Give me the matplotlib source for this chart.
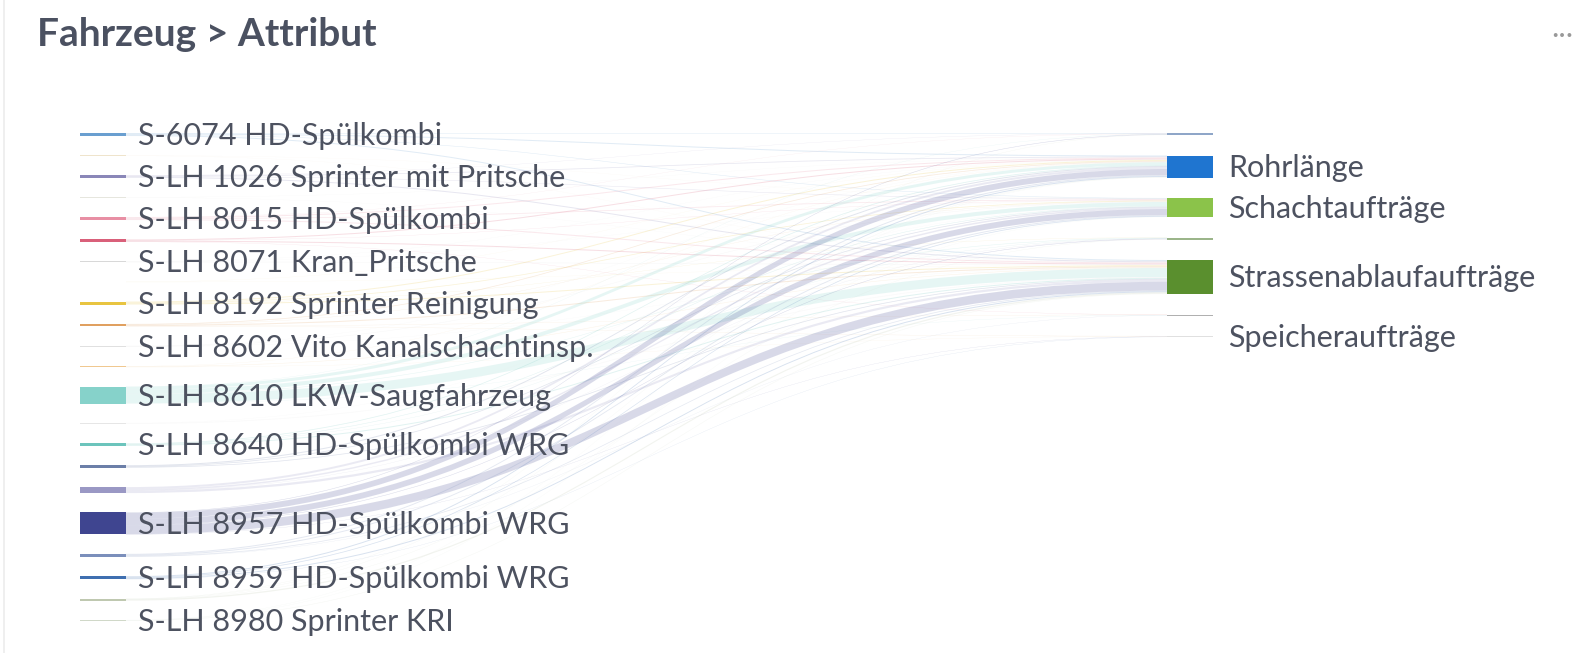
import matplotlib.pyplot as plt
import numpy as np
from matplotlib.path import Path
from matplotlib.patches import PathPatch, Rectangle

plt.rcParams['font.family'] = ['Lato', 'DejaVu Sans']

# vehicles (left column); empty names are nodes whose label is not shown
sources = [
    'S-6074 HD-Spülkombi', '', 'S-LH 1026 Sprinter mit Pritsche', '',
    'S-LH 8015 HD-Spülkombi', '', 'S-LH 8071 Kran_Pritsche', '',
    'S-LH 8192 Sprinter Reinigung', '', 'S-LH 8602 Vito Kanalschachtinsp.', '',
    'S-LH 8610 LKW-Saugfahrzeug', '', 'S-LH 8640 HD-Spülkombi WRG', '', '',
    'S-LH 8957 HD-Spülkombi WRG', '', 'S-LH 8959 HD-Spülkombi WRG', '',
    'S-LH 8980 Sprinter KRI',
]
source_colors = [
    '#6a9fd0', '#efe4cc', '#8a87b8', '#e6e6de', '#e88fa4', '#d9607a',
    '#d8d8d8', '#f0e0b0', '#e8c440', '#e0a060', '#e0e0e0', '#f0c890',
    '#86d2ca', '#e6e6e6', '#6cc4bc', '#6c7fa8', '#9a98c4', '#3f4590',
    '#7b8fbb', '#3f6fb0', '#bfc8b0', '#d0d8c8',
]

# attributes (right column)
targets = ['', 'Rohrlänge', 'Schachtaufträge', '', 'Strassenablaufaufträge',
           '', 'Speicheraufträge']
target_colors = ['#8fa6c8', '#1f75d0', '#8bc34a', '#9bb58a', '#5a8f2e',
                 '#b0b0b0', '#e0e0e0']

# flow from each vehicle (row) to each attribute (column)
flows = [
    [.5, 1, .5, 0, 1, 0, 0],
    [0, 0, .25, 0, .25, 0, 0],
    [.25, .75, .5, 0, 1, 0, 0],
    [0, .25, 0, 0, .25, 0, 0],
    [.25, 1, .75, 0, 1, 0, 0],
    [0, 1, .25, 0, 1, .25, 0],
    [0, .25, .25, 0, .5, 0, 0],
    [0, .25, 0, 0, .25, 0, 0],
    [0, 1, .75, .25, 1, 0, 0],
    [0, .75, .25, 0, 1, .25, .25],
    [0, .25, .5, 0, .25, 0, 0],
    [0, .25, 0, 0, .5, 0, .25],
    [.25, 3, 4, .5, 9, .25, 0],
    [0, 0, .25, 0, .75, 0, 0],
    [0, .75, .5, .25, 1, 0, 0],
    [0, 1, .75, 0, .75, 0, 0],
    [0, 2, 1.5, .25, 2.25, 0, 0],
    [.5, 6, 6, .5, 8.75, 0, .25],
    [0, 1, 1, 0, .75, .25, 0],
    [0, 1, .75, 0, 1, 0, .25],
    [.25, .25, 0, .25, 1.25, 0, 0],
    [0, .25, .25, 0, .5, 0, 0],
]

W, H = 1573, 653
fig = plt.figure(figsize=(W / 100, H / 100), dpi=100)
ax = fig.add_axes([0, 0, 1, 1])
ax.set_xlim(0, W)
ax.set_ylim(H, 0)
ax.axis('off')

F = np.array(flows, dtype=float)
src_val = F.sum(axis=1)
tgt_val = F.sum(axis=0)

# layout: both columns share the same value scale, top aligned
top, bottom = 133, 621
left_x, right_x, node_w = 80, 1167, 46
scale = 1.0
gap_left = (bottom - top - src_val.sum() * scale) / (len(sources) - 1)
gap_right = 20.5


def stack(values, gap):
    y0 = top + np.concatenate([[0], np.cumsum(values * scale + gap)[:-1]])
    return y0, y0 + values * scale


src_y0, src_y1 = stack(src_val, gap_left)
tgt_y0, tgt_y1 = stack(tgt_val, gap_right)

# links, stacked at each node in the order of the node on the other side
x0, x1 = left_x + node_w, right_x
xm = (x0 + x1) / 2
src_off = src_y0.copy()
tgt_off = tgt_y0.copy()
src_pos = np.zeros_like(F)
tgt_pos = np.zeros_like(F)
for i in range(len(sources)):
    for j in range(len(targets)):
        if F[i, j]:
            src_pos[i, j] = src_off[i]
            src_off[i] += F[i, j] * scale
for j in range(len(targets)):
    for i in range(len(sources)):
        if F[i, j]:
            tgt_pos[i, j] = tgt_off[j]
            tgt_off[j] += F[i, j] * scale

for i in range(len(sources)):
    for j in range(len(targets)):
        if not F[i, j]:
            continue
        h = F[i, j] * scale
        sa, ta = src_pos[i, j], tgt_pos[i, j]
        sb, tb = sa + h, ta + h
        verts = [(x0, sa), (xm, sa), (xm, ta), (x1, ta),
                 (x1, tb), (xm, tb), (xm, sb), (x0, sb), (x0, sa)]
        codes = [Path.MOVETO, Path.CURVE4, Path.CURVE4, Path.CURVE4,
                 Path.LINETO, Path.CURVE4, Path.CURVE4, Path.CURVE4,
                 Path.CLOSEPOLY]
        ax.add_patch(PathPatch(Path(verts, codes), facecolor=source_colors[i],
                               edgecolor='none', alpha=0.2, zorder=1))

# nodes
label_kw = dict(fontsize=22, color='#4d5260', va='center', ha='left', zorder=3)
for i, name in enumerate(sources):
    ax.add_patch(Rectangle((left_x, src_y0[i]), node_w, src_val[i] * scale,
                           facecolor=source_colors[i], edgecolor='none', zorder=2))
    if name:
        ax.text(left_x + node_w + 12, (src_y0[i] + src_y1[i]) / 2 + 1.5, name,
                **label_kw)
for j, name in enumerate(targets):
    ax.add_patch(Rectangle((right_x, tgt_y0[j]), node_w, tgt_val[j] * scale,
                           facecolor=target_colors[j], edgecolor='none', zorder=2))
    if name:
        ax.text(right_x + node_w + 15, (tgt_y0[j] + tgt_y1[j]) / 2 + 1.5, name,
                **label_kw)

# card header
ax.text(37, 35, 'Fahrzeug > Attribut', fontsize=28, fontweight='bold',
        color='#4b5161', va='center', ha='left')
ax.text(1551, 28, '...', fontsize=22, color='#999999', va='center', ha='left')
ax.plot([4, 4], [0, H], color='#ececec', lw=1.2)

fig.savefig('out.png', dpi=100, facecolor='white')
